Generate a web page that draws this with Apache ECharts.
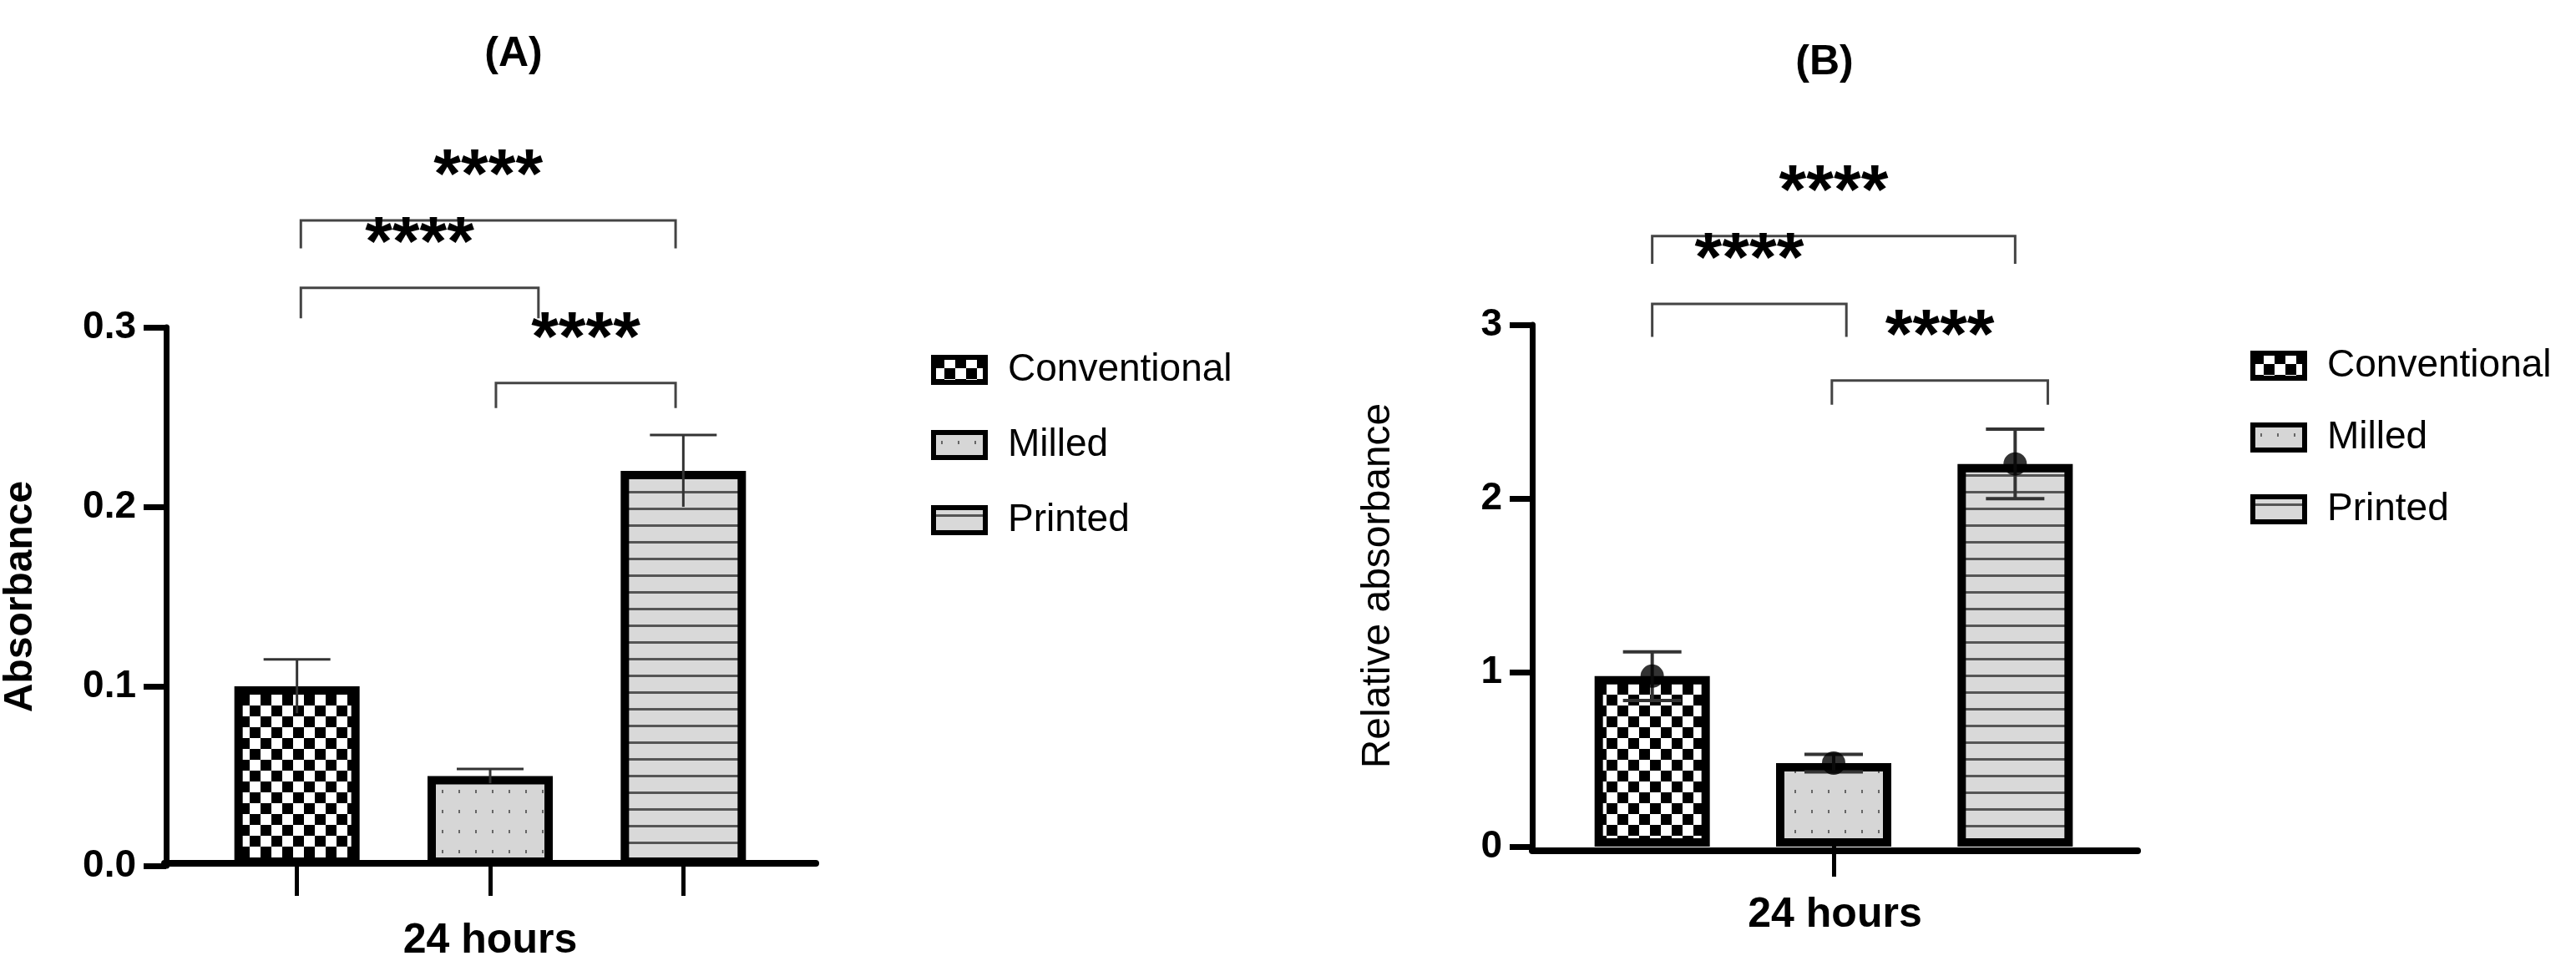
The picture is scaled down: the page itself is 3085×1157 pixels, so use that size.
<!DOCTYPE html>
<html>
<head>
<meta charset="utf-8">
<script src="https://cdn.jsdelivr.net/npm/echarts@6/dist/echarts.min.js"></script>
<style>
  html, body { margin: 0; padding: 0; background: #fff; }
  #main { width: 3085px; height: 1157px; }
</style>
</head>
<body>
<div id="main"></div>
<script>
// groups
var groups = ['Conventional', 'Milled', 'Printed'];

// panel A: absorbance, mean and SD
var meanA = [0.100, 0.050, 0.220];
var sdA = [0.015, 0.004, 0.020];
var ticksA = [0, 0.1, 0.2, 0.3];

// panel B: relative absorbance, mean and SD
var meanB = [0.98, 0.48, 2.20];
var sdB = [0.14, 0.05, 0.20];
var ticksB = [0, 1, 2, 3];

// significance brackets: [fromIdx, fromShift, toIdx, toShift, barY, legY, label]
var bracketsA = [
  [0, 0.02, 2, -0.04, 0.3595, 0.344, '****'],
  [0, 0.02, 1, 0.25, 0.322, 0.305, '****'],
  [1, 0.03, 2, -0.04, 0.269, 0.255, '****']
];
var bracketsB = [
  [0, 0.0, 2, 0.0, 3.51, 3.35, '****'],
  [0, 0.0, 1, 0.07, 3.12, 2.93, '****'],
  [1, -0.01, 2, 0.18, 2.68, 2.54, '****']
];

var SANS = '"Liberation Sans", Arial, sans-serif';

function makePattern(kind) {
  var c = document.createElement('canvas');
  var ctx = c.getContext('2d');
  if (kind === 0) {
    c.width = 26; c.height = 26;
    ctx.fillStyle = '#fff'; ctx.fillRect(0, 0, 26, 26);
    ctx.fillStyle = '#000';
    ctx.fillRect(0, 0, 13, 13); ctx.fillRect(13, 13, 13, 13);
  } else if (kind === 1) {
    c.width = 20; c.height = 24;
    ctx.fillStyle = '#d6d6d6'; ctx.fillRect(0, 0, 20, 24);
    ctx.fillStyle = '#666';
    ctx.fillRect(9, 10, 2, 4);
  } else {
    c.width = 10; c.height = 20;
    ctx.fillStyle = '#d9d9d9'; ctx.fillRect(0, 0, 10, 20);
    ctx.fillStyle = '#555';
    ctx.fillRect(0, 8, 10, 3);
  }
  return { image: c, repeat: 'repeat' };
}
var patterns = [makePattern(0), makePattern(1), makePattern(2)];

function oneHot(arr, i) {
  return arr.map(function (v, j) { return j === i ? v : '-'; });
}

function barSeries(means, gridIdx, width) {
  return groups.map(function (g, i) {
    return {
      name: g, type: 'bar', xAxisIndex: gridIdx * 2, yAxisIndex: gridIdx,
      data: oneHot(means, i), barWidth: width, barGap: '-100%',
      itemStyle: { color: patterns[i], borderColor: '#000', borderWidth: 10 },
      z: 2, silent: true
    };
  });
}

function errSeries(means, sds, gridIdx, lowCap, lw, capW) {
  return {
    type: 'custom', xAxisIndex: gridIdx * 2, yAxisIndex: gridIdx, z: 3, silent: true,
    data: means.map(function (m, i) { return [i, m, sds[i]]; }),
    renderItem: function (params, api) {
      var i = api.value(0), m = api.value(1), s = api.value(2);
      var top = api.coord([i, m + s]), bot = api.coord([i, m - s]);
      var style = { stroke: '#333', lineWidth: lw };
      var ch = [
        { type: 'line', shape: { x1: top[0], y1: top[1], x2: bot[0], y2: bot[1] }, style: style },
        { type: 'line', shape: { x1: top[0] - capW, y1: top[1], x2: top[0] + capW, y2: top[1] }, style: style }
      ];
      if (lowCap) ch.push({ type: 'line', shape: { x1: bot[0] - capW, y1: bot[1], x2: bot[0] + capW, y2: bot[1] }, style: style });
      return { type: 'group', children: ch };
    }
  };
}

function bracketSeries(list, gridIdx) {
  return {
    type: 'custom', xAxisIndex: gridIdx * 2, yAxisIndex: gridIdx, z: 4, silent: true, clip: false,
    data: list,
    renderItem: function (params, api) {
      var b = list[params.dataIndex];
      var band = api.size([1, 0])[0];
      var p1 = api.coord([b[0], b[4]]), p2 = api.coord([b[2], b[4]]);
      var leg = api.coord([b[0], b[5]]);
      var x1 = p1[0] + b[1] * band, x2 = p2[0] + b[3] * band;
      var style = { stroke: '#444', lineWidth: 3, fill: null };
      return {
        type: 'group', children: [
          { type: 'polyline', shape: { points: [[x1, leg[1]], [x1, p1[1]], [x2, p1[1]], [x2, leg[1]]] }, style: style },
          { type: 'text', x: (x1 + x2) / 2, y: p1[1] - 8,
            style: { text: b[6], font: 'bold 84px ' + SANS, fill: '#000', align: 'center', verticalAlign: 'bottom' } }
        ]
      };
    }
  };
}

function yAxisCfg(gridIdx, ticks, name, bold, offset, labelFmt) {
  return {
    type: 'value', gridIndex: gridIdx, min: ticks[0], max: ticks[ticks.length - 1],
    interval: ticks[1] - ticks[0], offset: offset,
    name: name, nameLocation: 'middle', nameGap: gridIdx === 0 ? 150 : 160,
    nameTextStyle: { fontFamily: SANS, fontSize: 48, fontWeight: bold ? 'bold' : 'normal', color: '#000' },
    axisLine: { show: true, lineStyle: { color: '#000', width: 7 } },
    axisTick: { show: true, length: 27, lineStyle: { color: '#000', width: 7 } },
    axisLabel: { fontFamily: SANS, fontSize: 46, fontWeight: 'bold', color: '#000', margin: 36, formatter: labelFmt },
    splitLine: { show: false }
  };
}

var legendText = { fontFamily: SANS, fontSize: 46, color: '#000', padding: [0, 0, 0, 22] };

var option = {
  animation: false,
  backgroundColor: '#fff',
  title: [
    { text: '(A)', left: 610, top: 35, textAlign: 'center',
      textStyle: { fontFamily: SANS, fontSize: 50, fontWeight: 'bold', color: '#000' } },
    { text: '(B)', left: 2180, top: 45, textAlign: 'center',
      textStyle: { fontFamily: SANS, fontSize: 50, fontWeight: 'bold', color: '#000' } }
  ],
  legend: [
    { data: groups, orient: 'vertical', left: 1110, top: 415, itemGap: 44, itemWidth: 62, itemHeight: 30,
      icon: 'rect', textStyle: legendText,
      itemStyle: { borderColor: '#000', borderWidth: 6 }, selectedMode: false },
    { data: groups, orient: 'vertical', left: 2690, top: 410, itemGap: 40, itemWidth: 62, itemHeight: 30,
      icon: 'rect', textStyle: legendText,
      itemStyle: { borderColor: '#000', borderWidth: 6 }, selectedMode: false }
  ],
  grid: [
    { left: 238, top: 392, width: 696, height: 645 },
    { left: 1870, top: 389, width: 652, height: 625 },
    { left: 197, top: 392, width: 780, height: 650 },
    { left: 1835, top: 389, width: 725, height: 630 }
  ],
  xAxis: [
    { type: 'category', gridIndex: 0, data: groups,
      axisLine: { show: false }, axisLabel: { show: false },
      axisTick: { show: true, alignWithLabel: true, length: 36, lineStyle: { color: '#000', width: 5 } } },
    { type: 'value', gridIndex: 2, min: 0, max: 1, axisLabel: { show: false }, axisTick: { show: false },
      splitLine: { show: false }, axisLine: { show: true, lineStyle: { color: '#000', width: 8 } },
      name: '24 hours', nameLocation: 'middle', nameGap: 68,
      nameTextStyle: { fontFamily: SANS, fontSize: 50, fontWeight: 'bold', color: '#000' } },
    { type: 'category', gridIndex: 1, data: groups,
      axisLine: { show: false }, axisLabel: { show: false },
      axisTick: { show: true, alignWithLabel: true, length: 36, interval: function (i) { return i === 1; },
        lineStyle: { color: '#000', width: 5 } } },
    { type: 'value', gridIndex: 3, min: 0, max: 1, axisLabel: { show: false }, axisTick: { show: false },
      splitLine: { show: false }, axisLine: { show: true, lineStyle: { color: '#000', width: 8 } },
      name: '24 hours', nameLocation: 'middle', nameGap: 52,
      nameTextStyle: { fontFamily: SANS, fontSize: 50, fontWeight: 'bold', color: '#000' } }
  ],
  yAxis: [
    yAxisCfg(0, ticksA, 'Absorbance', true, 41, function (v) { return v.toFixed(1); }),
    yAxisCfg(1, ticksB, 'Relative absorbance', false, 35, function (v) { return String(v); }),
    { type: 'value', gridIndex: 2, show: false, min: 0, max: 1 },
    { type: 'value', gridIndex: 3, show: false, min: 0, max: 1 }
  ],
  series: []
    .concat(barSeries(meanA, 0, 150))
    .concat(barSeries(meanB, 1, 138))
    .concat([
      errSeries(meanA, sdA, 0, false, 3, 40),
      errSeries(meanB, sdB, 1, true, 4, 35),
      {
        // mean dots on panel B
        type: 'scatter', xAxisIndex: 2, yAxisIndex: 1, z: 5, silent: true,
        symbolSize: 28, itemStyle: { color: '#000' },
        data: meanB.map(function (m, i) { return [i, m]; })
      },
      bracketSeries(bracketsA, 0),
      bracketSeries(bracketsB, 1)
    ])
};

var chart = echarts.init(document.getElementById('main'));
chart.setOption(option);
</script>
</body>
</html>
